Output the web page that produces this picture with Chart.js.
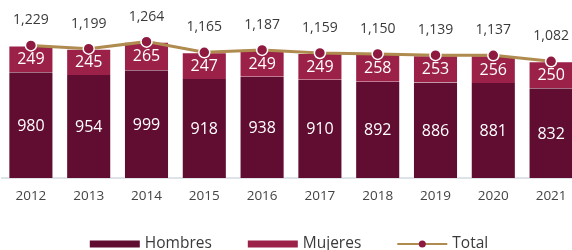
<!DOCTYPE html>
<html>
<head>
<meta charset="utf-8">
<script src="https://cdn.jsdelivr.net/npm/chart.js@4.4.1/dist/chart.umd.min.js"></script>
<style>
html,body{margin:0;padding:0;background:#fff;overflow:hidden;}
#wrap{width:580px;height:250px;position:relative;}
</style>
</head>
<body>
<div id="wrap"><canvas id="c" width="580" height="250"></canvas></div>
<script>
const years = ['2012','2013','2014','2015','2016','2017','2018','2019','2020','2021'];
const hombres = [980, 954, 999, 918, 938, 910, 892, 886, 881, 832];
const mujeres = [249, 245, 265, 247, 249, 249, 258, 253, 256, 250];
const total = [1229, 1199, 1264, 1165, 1187, 1159, 1150, 1139, 1137, 1082];

const FONT = "'Open Sans', sans-serif";
const C_H = '#610D32';
const C_M = '#9C2148';
const C_T = '#B08B4F';
const C_P = '#8E1A40';

const labelPlugin = {
  id: 'labels',
  afterDatasetsDraw(chart) {
    const ctx = chart.ctx;
    ctx.save();
    ctx.textAlign = 'center';
    ctx.textBaseline = 'middle';
    [0, 1].forEach(di => {
      const meta = chart.getDatasetMeta(di);
      meta.data.forEach((bar, i) => {
        const p = bar.getProps(['x', 'y', 'base'], true);
        ctx.fillStyle = '#ffffff';
        ctx.font = '16px ' + FONT;
        ctx.fillText(chart.data.datasets[di].data[i].toLocaleString('en-US'), p.x, (p.y + p.base) / 2 + 1);
      });
    });
    const lm = chart.getDatasetMeta(2);
    lm.data.forEach((pt, i) => {
      ctx.fillStyle = '#3a3a3a';
      ctx.font = '14px ' + FONT;
      ctx.fillText(total[i].toLocaleString('en-US'), pt.x, pt.y - 25);
    });
    ctx.restore();
  },
  afterDraw(chart) {
    const ctx = chart.ctx;
    ctx.save();
    ctx.font = '15.5px ' + FONT;
    ctx.textBaseline = 'middle';
    const items = [
      {t: 'Hombres', k: 'box', c: C_H},
      {t: 'Mujeres', k: 'box', c: C_M},
      {t: 'Total', k: 'line', c: C_T}
    ];
    const sw = 50, gapT = 5, gapI = 36;
    let totalW = 0;
    items.forEach((it, i) => { it.w = sw + gapT + ctx.measureText(it.t).width; totalW += it.w + (i ? gapI : 0); });
    let x = 289 - totalW / 2;
    const y = 244;
    items.forEach(it => {
      if (it.k === 'box') {
        ctx.fillStyle = it.c;
        ctx.fillRect(x, y - 3.5, sw, 7);
      } else {
        ctx.strokeStyle = it.c;
        ctx.lineWidth = 2;
        ctx.beginPath(); ctx.moveTo(x, y); ctx.lineTo(x + sw, y); ctx.stroke();
        ctx.fillStyle = C_P;
        ctx.beginPath(); ctx.arc(x + sw / 2, y, 3.5, 0, Math.PI * 2); ctx.fill();
      }
      ctx.fillStyle = '#3a3a3a';
      ctx.fillText(it.t, x + sw + gapT, y);
      x += it.w + gapI;
    });
    ctx.restore();
  }
};

new Chart(document.getElementById('c'), {
  data: {
    labels: years,
    datasets: [
      {type: 'bar', label: 'Hombres', data: hombres, backgroundColor: C_H, borderColor: 'rgba(255,255,255,0.35)', borderWidth: {left: 1, right: 1, top: 0, bottom: 0}, order: 1, stack: 's', barPercentage: 0.78, categoryPercentage: 1},
      {type: 'bar', label: 'Mujeres', data: mujeres, backgroundColor: C_M, borderColor: 'rgba(255,255,255,0.35)', borderWidth: {left: 1, right: 1, top: 1, bottom: 1}, order: 1, stack: 's', barPercentage: 0.78, categoryPercentage: 1},
      {type: 'line', label: 'Total', data: total, borderColor: C_T, borderWidth: 3, pointRadius: 5.5, pointBackgroundColor: C_P, pointBorderColor: '#ffffff', pointBorderWidth: 1.5, tension: 0, order: 0, stack: 't'}
    ]
  },
  options: {
    responsive: false,
    animation: false,
    devicePixelRatio: 1,
    layout: {autoPadding: false, padding: {left: 2, right: 0, top: 0, bottom: 35.8}},
    plugins: {legend: {display: false}, tooltip: {enabled: false}},
    scales: {
      x: {
        stacked: true,
        grid: {display: false, drawTicks: false},
        border: {display: true, color: '#DEE3EA', width: 2},
        ticks: {color: '#444444', font: {family: FONT, size: 13.5}, padding: 10}
      },
      y: {stacked: true, display: false, min: 0, max: 1650}
    }
  },
  plugins: [labelPlugin]
});
</script>
</body>
</html>
